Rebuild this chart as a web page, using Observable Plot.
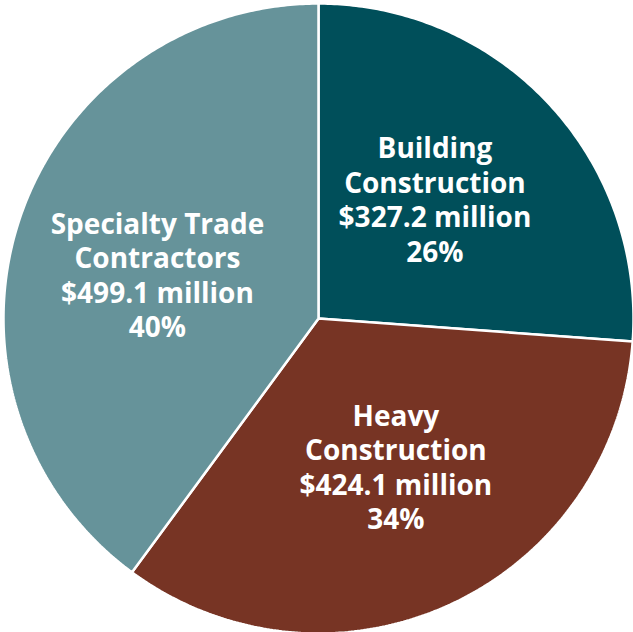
<!DOCTYPE html>
<html>
<head>
<meta charset="utf-8">
<script src="https://cdn.jsdelivr.net/npm/d3@7"></script>
<script src="https://cdn.jsdelivr.net/npm/@observablehq/plot@0.6"></script>
<style>
  html, body { margin: 0; padding: 0; background: #ffffff; }
  #chart { width: 633px; height: 632px; }
</style>
</head>
<body>
<div id="chart"></div>
<script>
const categories = ["Building Construction", "Heavy Construction", "Specialty Trade Contractors"];
const labelLines = [["Building", "Construction"], ["Heavy", "Construction"], ["Specialty Trade", "Contractors"]];
const values = [327.2, 424.1, 499.1];
const percents = ["26%", "34%", "40%"];
const colors = ["#004f5a", "#773424", "#66939a"];

const pie = d3.pie().sort(null).value(d => d.value);
const rows = categories.map((c, i) => ({category: c, value: values[i], lines: labelLines[i], pct: percents[i]}));
const arcs = pie(rows);

// Build slice outlines (unit circle coordinates, angle clockwise from 12 o'clock)
const slicePts = [];
arcs.forEach(a => {
  const n = Math.max(4, Math.ceil((a.endAngle - a.startAngle) / 0.01));
  slicePts.push({category: a.data.category, x: 0, y: 0});
  for (let k = 0; k <= n; k++) {
    const t = a.startAngle + (a.endAngle - a.startAngle) * k / n;
    slicePts.push({category: a.data.category, x: Math.sin(t), y: Math.cos(t)});
  }
  slicePts.push({category: a.data.category, x: 0, y: 0});
});

const labelR = 0.53;
const labelRot = -0.05; // Excel-style slight counter-clockwise placement
const labels = arcs.map(a => {
  const m = (a.startAngle + a.endAngle) / 2 + labelRot;
  return {
    category: a.data.category,
    x: labelR * Math.sin(m),
    y: labelR * Math.cos(m),
    text: [...a.data.lines, "$" + a.data.value.toFixed(1) + " million", a.data.pct].join("\n")
  };
});

const cx = 318, cy = 318, R = 315;
const chart = Plot.plot({
  width: 633,
  height: 632,
  margin: 0,
  style: {background: "#ffffff"},
  x: {domain: [-1, 1], range: [cx - R, cx + R], axis: null},
  y: {domain: [-1, 1], range: [cy - R, cy + R], axis: null},
  color: {domain: categories, range: colors},
  marks: [
    Plot.line(slicePts, {x: "x", y: d => -d.y, z: "category", fill: "category", stroke: "#ffffff", strokeWidth: 2.5, strokeLinejoin: "miter", curve: "linear"}),
    Plot.text(labels, {
      x: "x", y: d => -d.y, text: "text",
      fill: "#ffffff", fontSize: 28, fontWeight: "bold",
      fontFamily: "'Open Sans', 'Noto Sans', sans-serif",
      lineHeight: 1.23, textAnchor: "middle", lineAnchor: "middle"
    })
  ]
});
document.getElementById("chart").appendChild(chart);
</script>
</body>
</html>
